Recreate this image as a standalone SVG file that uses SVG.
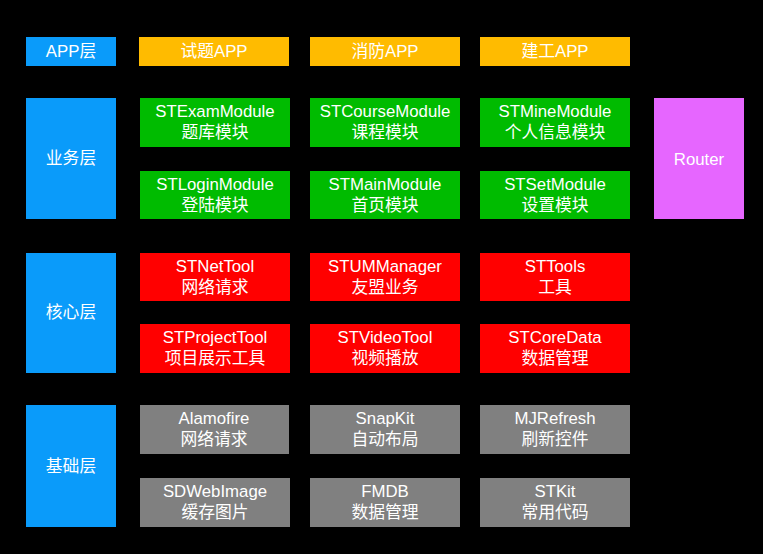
<svg xmlns="http://www.w3.org/2000/svg" width="763" height="554" viewBox="0 0 763 554">
<style>
text{font-family:"Liberation Sans","Noto Sans CJK SC",sans-serif;font-size:16.8px;fill:#fff;text-anchor:middle}
.layer{fill:#0A9BFA}
.app{fill:#FFBB00}
.biz{fill:#00BB00}
.core{fill:#FF0000}
.base{fill:#808080}
.router{fill:#E666FF}
</style>
<rect width="763" height="554" fill="#000"/>
<g id="layer-app"><rect class="layer" x="26" y="37" width="90" height="29"/><text x="71" y="57">APP层</text></g>
<g id="app1"><rect class="app" x="139" y="37" width="150" height="29"/><text x="214" y="57">试题APP</text></g>
<g id="app2"><rect class="app" x="310" y="37" width="150" height="29"/><text x="385" y="57">消防APP</text></g>
<g id="app3"><rect class="app" x="480" y="37" width="150" height="29"/><text x="555" y="57">建工APP</text></g>

<g id="layer-biz"><rect class="layer" x="26" y="98" width="90" height="121"/><text x="71" y="164">业务层</text></g>
<g id="exam"><rect class="biz" x="140" y="98" width="150" height="49"/><text x="215" y="117">STExamModule</text><text x="215" y="138">题库模块</text></g>
<g id="course"><rect class="biz" x="310" y="98" width="150" height="49"/><text x="385" y="117">STCourseModule</text><text x="385" y="138">课程模块</text></g>
<g id="mine"><rect class="biz" x="480" y="98" width="150" height="49"/><text x="555" y="117">STMineModule</text><text x="555" y="138">个人信息模块</text></g>
<g id="login"><rect class="biz" x="140" y="171" width="150" height="48"/><text x="215" y="190">STLoginModule</text><text x="215" y="211">登陆模块</text></g>
<g id="main"><rect class="biz" x="310" y="171" width="150" height="48"/><text x="385" y="190">STMainModule</text><text x="385" y="211">首页模块</text></g>
<g id="set"><rect class="biz" x="480" y="171" width="150" height="48"/><text x="555" y="190">STSetModule</text><text x="555" y="211">设置模块</text></g>
<g id="router"><rect class="router" x="654" y="98" width="90" height="121"/><text x="699" y="165">Router</text></g>

<g id="layer-core"><rect class="layer" x="26" y="253" width="90" height="120"/><text x="71" y="318">核心层</text></g>
<g id="net"><rect class="core" x="140" y="253" width="150" height="48"/><text x="215" y="272">STNetTool</text><text x="215" y="293">网络请求</text></g>
<g id="um"><rect class="core" x="310" y="253" width="150" height="48"/><text x="385" y="272">STUMManager</text><text x="385" y="293">友盟业务</text></g>
<g id="tools"><rect class="core" x="480" y="253" width="150" height="48"/><text x="555" y="272">STTools</text><text x="555" y="293">工具</text></g>
<g id="project"><rect class="core" x="140" y="324" width="150" height="49"/><text x="215" y="343">STProjectTool</text><text x="215" y="364">项目展示工具</text></g>
<g id="video"><rect class="core" x="310" y="324" width="150" height="49"/><text x="385" y="343">STVideoTool</text><text x="385" y="364">视频播放</text></g>
<g id="coredata"><rect class="core" x="480" y="324" width="150" height="49"/><text x="555" y="343">STCoreData</text><text x="555" y="364">数据管理</text></g>

<g id="layer-base"><rect class="layer" x="26" y="405" width="90" height="122"/><text x="71" y="472">基础层</text></g>
<g id="alamofire"><rect class="base" x="140" y="405" width="149" height="49"/><text x="214" y="424">Alamofire</text><text x="214" y="445">网络请求</text></g>
<g id="snapkit"><rect class="base" x="310" y="405" width="150" height="49"/><text x="385" y="424">SnapKit</text><text x="385" y="445">自动布局</text></g>
<g id="mjrefresh"><rect class="base" x="480" y="405" width="150" height="49"/><text x="555" y="424">MJRefresh</text><text x="555" y="445">刷新控件</text></g>
<g id="sdweb"><rect class="base" x="140" y="478" width="150" height="49"/><text x="215" y="497">SDWebImage</text><text x="215" y="518">缓存图片</text></g>
<g id="fmdb"><rect class="base" x="310" y="478" width="150" height="49"/><text x="385" y="497">FMDB</text><text x="385" y="518">数据管理</text></g>
<g id="stkit"><rect class="base" x="480" y="478" width="150" height="49"/><text x="555" y="497">STKit</text><text x="555" y="518">常用代码</text></g>
<g id="connectors"/>
</svg>
